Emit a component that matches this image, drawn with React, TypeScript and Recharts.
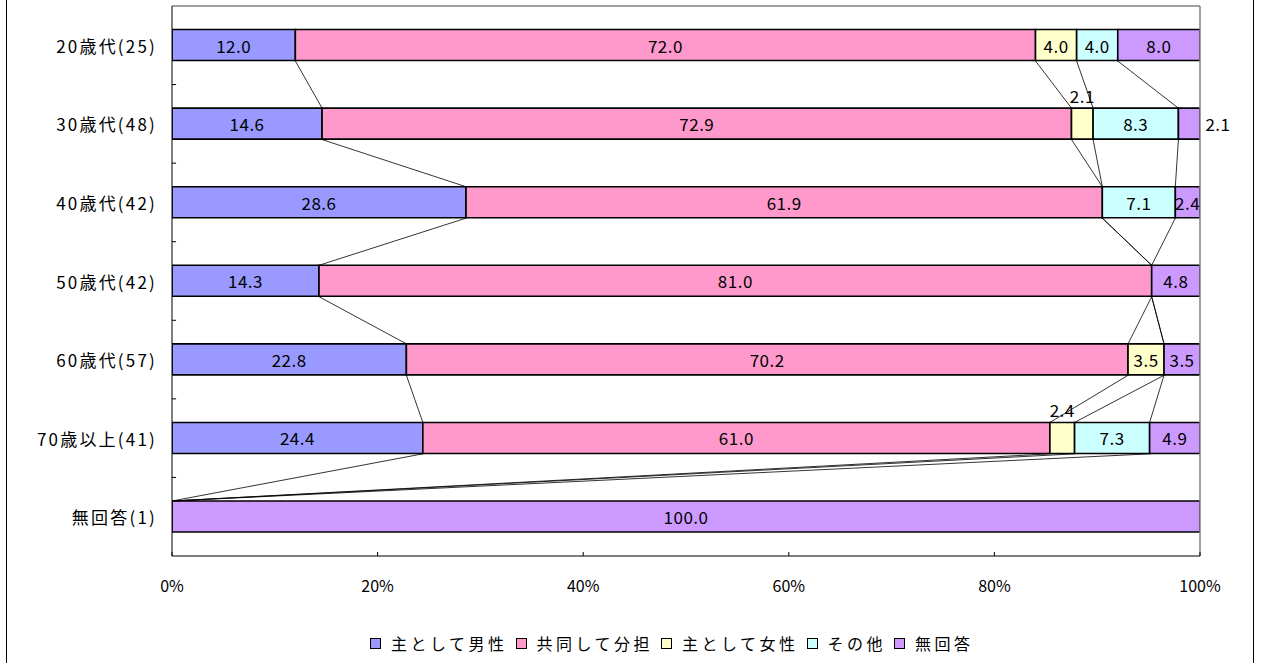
import React from 'react';
import {
  BarChart,
  Bar,
  XAxis,
  YAxis,
  LabelList,
  ReferenceLine,
} from 'recharts';

const categories = ['20歳代(25)', '30歳代(48)', '40歳代(42)', '50歳代(42)', '60歳代(57)', '70歳以上(41)', '無回答(1)'];
const seriesNames = ['主として男性', '共同して分担', '主として女性', 'その他', '無回答'];
const seriesColors = ['#9999FF', '#FF99CC', '#FFFFCC', '#CCFFFF', '#CC99FF'];

const mainlyMen = [12.0, 14.6, 28.6, 14.3, 22.8, 24.4, 0];
const shared = [72.0, 72.9, 61.9, 81.0, 70.2, 61.0, 0];
const mainlyWomen = [4.0, 2.1, 0, 0, 3.5, 2.4, 0];
const other = [4.0, 8.3, 7.1, 0, 0, 7.3, 0];
const noAnswer = [8.0, 2.1, 2.4, 4.8, 3.5, 4.9, 100.0];

const xTicks = [0, 20, 40, 60, 80, 100];

const seriesValues = [mainlyMen, shared, mainlyWomen, other, noAnswer];
const keys = ['s0', 's1', 's2', 's3', 's4'];

const data = categories.map((name, i) => {
  const row: any = { name };
  seriesValues.forEach((vals, k) => (row[keys[k]] = vals[i]));
  return row;
});

// gap on each side of a bar inside its band (same as barCategoryGap)
const GAP = 0.3;
const FONT = '"Noto Sans CJK JP", "Noto Sans", sans-serif';

// cumulative end of each series per category -> series lines between bars
const cumulative = categories.map((_, i) => {
  let sum = 0;
  return seriesValues.slice(0, 4).map((vals) => (sum += vals[i]));
});

const connectors: Array<{ x1: number; x2: number; from: string; to: string }> = [];
for (let i = 0; i < categories.length - 1; i++) {
  for (let k = 0; k < 4; k++) {
    connectors.push({ x1: cumulative[i][k], x2: cumulative[i + 1][k], from: categories[i], to: categories[i + 1] });
  }
}

// segment goes from band centre to band centre; pull the ends in to the bar edges
const SeriesLine = (props: any) => {
  const { x1, y1, x2, y2 } = props;
  const band = y2 - y1;
  const inset = (0.5 - GAP) * band;
  return <line x1={x1} y1={y1 + inset} x2={x2} y2={y2 - inset} stroke="#000" strokeWidth={0.8} />;
};

const makeLabel = (series: number) => (props: any) => {
  const { x, y, width, height, value } = props;
  if (!value) return null;
  let tx = x + width / 2;
  let ty = y + height / 2;
  if (series === 2 && value < 3) {
    ty = y - 13;
  } else if (series === 4 && value < 2.3) {
    tx = x + width + 18;
  }
  return (
    <text
      x={tx}
      y={ty}
      textAnchor="middle"
      dominantBaseline="central"
      fontSize={17}
      letterSpacing={0.5}
      fontFamily={FONT}
      fill="#000"
    >
      {value.toFixed(1)}
    </text>
  );
};

const CategoryTick = ({ x, y, payload }: any) => (
  <text
    x={x}
    y={y}
    textAnchor="end"
    dominantBaseline="central"
    fontSize={17}
    letterSpacing={2.2}
    fontFamily={FONT}
    fill="#000"
  >
    {payload.value}
  </text>
);

const LegendRow = () => (
  <div
    style={{
      position: 'absolute',
      top: 633,
      left: 370,
      display: 'flex',
      fontFamily: FONT,
      fontSize: 16,
      letterSpacing: 3.5,
      lineHeight: '20px',
      color: '#000',
      whiteSpace: 'nowrap',
    }}
  >
    {seriesNames.map((name, k) => (
      <span key={name} style={{ display: 'flex', alignItems: 'center', marginRight: 8 }}>
        <span
          style={{
            display: 'inline-block',
            width: 9,
            height: 9,
            background: seriesColors[k],
            border: '1px solid #000',
            marginRight: 10,
          }}
        />
        {name}
      </span>
    ))}
  </div>
);

const App = () => {
  return (
    <div style={{ position: 'fixed', left: 0, top: 0, width: 1261, height: 663, background: '#fff', overflow: 'hidden' }}>
      <div
        style={{
          position: 'absolute',
          left: 6,
          top: 0,
          width: 1246,
          height: 663,
          borderLeft: '1px solid #000',
          borderRight: '1px solid #000',
        }}
      />
      <BarChart
        width={1261}
        height={663}
        data={data}
        layout="vertical"
        barCategoryGap="30%"
        margin={{ top: 6, right: 61, bottom: 67, left: 6 }}
        style={{ position: 'absolute', left: 0, top: 0 }}
      >
        <XAxis
          type="number"
          domain={[0, 100]}
          allowDataOverflow
          ticks={xTicks}
          tickFormatter={(v) => `${v}%`}
          axisLine={{ stroke: '#000' }}
          tickLine={{ stroke: '#000' }}
          tickSize={-4}
          tickMargin={29}
          height={40}
          tick={{ fontSize: 16, fill: '#000', fontFamily: FONT }}
        />
        <YAxis
          type="category"
          dataKey="name"
          width={166}
          axisLine={{ stroke: '#000' }}
          tickLine={false}
          tickSize={6}
          tickMargin={9}
          tick={<CategoryTick />}
        />
        {keys.map((key, k) => (
          <Bar
            key={key}
            dataKey={key}
            name={seriesNames[k]}
            stackId="a"
            fill={seriesColors[k]}
            stroke="#000"
            strokeWidth={1.6}
            isAnimationActive={false}
          >
            <LabelList dataKey={key} content={makeLabel(k)} />
          </Bar>
        ))}
        {/* plot area frame: top and right edges */}
        <ReferenceLine
          segment={[
            { x: 0, y: categories[0] },
            { x: 100, y: categories[0] },
          ]}
          position="start"
          stroke="#808080"
          strokeWidth={1.5}
        />
        <ReferenceLine x={100} stroke="#808080" strokeWidth={1.5} />
        {connectors.map((c, i) => (
          <ReferenceLine
            key={`c${i}`}
            segment={[
              { x: c.x1, y: c.from },
              { x: c.x2, y: c.to },
            ]}
            position="middle"
            shape={SeriesLine}
          />
        ))}
        {categories.slice(1).map((cat) => (
          <ReferenceLine
            key={`yt${cat}`}
            segment={[
              { x: 0, y: cat },
              { x: 0.4, y: cat },
            ]}
            position="start"
            stroke="#000"
            strokeWidth={1}
          />
        ))}
      </BarChart>
      <LegendRow />
    </div>
  );
};

export default App;
